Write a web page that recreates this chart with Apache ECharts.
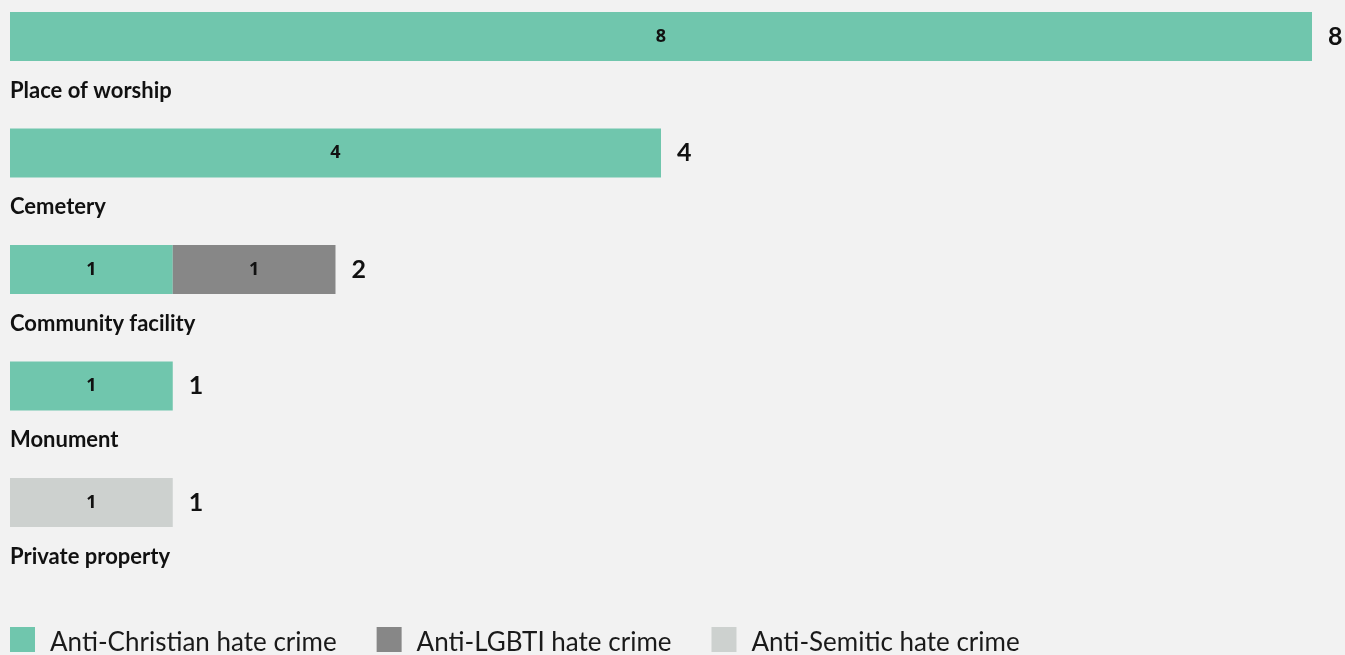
<!DOCTYPE html>
<html>
<head>
<meta charset="utf-8">
<script src="https://cdn.jsdelivr.net/npm/echarts@6/dist/echarts.min.js"></script>
<style>
  html, body { margin: 0; padding: 0; background: #f2f2f2; }
  #chart { width: 1345px; height: 655px; }
</style>
</head>
<body>
<div id="chart"></div>
<script>
// Targets of hate crimes, broken down by bias motivation
const categories = ['Place of worship', 'Cemetery', 'Community facility', 'Monument', 'Private property'];
const antiChristian = [8, 4, 1, 1, 0];
const antiLGBTI = [0, 0, 1, 0, 0];
const antiSemitic = [0, 0, 0, 0, 1];

const seriesNames = ['Anti-Christian hate crime', 'Anti-LGBTI hate crime', 'Anti-Semitic hate crime'];
const seriesColors = ['#70c6ad', '#878787', '#cdd1cf'];

const totals = categories.map((_, i) => antiChristian[i] + antiLGBTI[i] + antiSemitic[i]);

const FONT = 'Lato, "Open Sans", sans-serif';
const DIGIT_FONT = '"Open Sans", Lato, sans-serif';

function segment(name, data, color) {
  return {
    name: name,
    type: 'bar',
    stack: 'all',
    data: data,
    barWidth: 49,
    clip: false,
    itemStyle: { color: color },
    label: {
      show: true,
      position: 'inside',
      fontFamily: DIGIT_FONT,
      fontSize: 18,
      fontWeight: 'bold',
      color: '#111',
      padding: [4, 0, 0, 0],
      formatter: p => (p.value ? String(p.value) : '')
    },
    emphasis: { disabled: true }
  };
}

const chart = echarts.init(document.getElementById('chart'), null, { renderer: 'canvas' });
chart.setOption({
  backgroundColor: '#f2f2f2',
  animation: false,
  textStyle: { fontFamily: FONT },
  // category ticks sit on the bar centres (boundaryGap false)
  grid: { left: 10, right: 33, top: 36.5, height: 466, containLabel: false },
  legend: {
    left: 10,
    top: 627,
    padding: 0,
    itemWidth: 25,
    itemHeight: 25,
    itemGap: 40,
    icon: 'rect',
    data: seriesNames,
    formatter: name => '{t|' + name + '}',
    textStyle: {
      fontFamily: FONT,
      fontSize: 26,
      color: '#1a1a1a',
      rich: { t: { fontFamily: FONT, fontSize: 26, color: '#1a1a1a', padding: [6, 0, 0, 10] } }
    },
    selectedMode: false
  },
  xAxis: {
    type: 'value',
    min: 0,
    max: 8,
    show: false
  },
  yAxis: {
    type: 'category',
    data: categories,
    inverse: true,
    boundaryGap: false,
    axisLine: { show: false },
    axisTick: { show: false },
    splitLine: { show: false },
    axisLabel: {
      inside: true,
      margin: 0,
      align: 'left',
      verticalAlign: 'top',
      padding: [43, 0, 0, 0],
      lineHeight: 22,
      fontFamily: FONT,
      fontSize: 22,
      fontWeight: 'bold',
      color: '#111'
    }
  },
  series: [
    segment(seriesNames[0], antiChristian, seriesColors[0]),
    segment(seriesNames[1], antiLGBTI, seriesColors[1]),
    segment(seriesNames[2], antiSemitic, seriesColors[2]),
    {
      name: 'total',
      type: 'bar',
      stack: 'all',
      data: totals.map(() => 0),
      barWidth: 49,
      clip: false,
      itemStyle: { color: 'transparent' },
      silent: true,
      label: {
        show: true,
        position: 'right',
        distance: 16,
        fontFamily: FONT,
        fontSize: 25,
        fontWeight: 'bold',
        color: '#111',
        formatter: p => String(totals[p.dataIndex])
      }
    }
  ]
});
</script>
</body>
</html>
